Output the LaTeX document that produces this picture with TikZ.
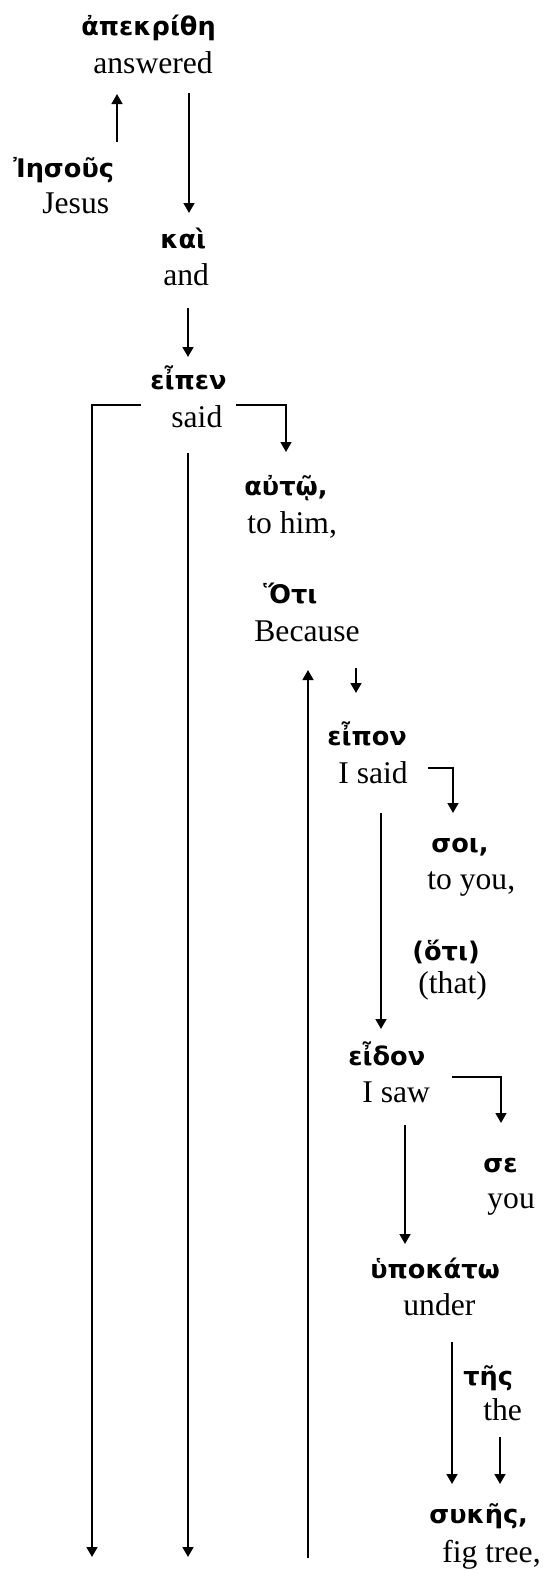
\documentclass[tikz,border=0pt]{standalone}
\usepackage{fontspec}
\setmainfont{Liberation Serif}
\newfontfamily\grk{DejaVu Sans}
\usepackage{tikz}
\usetikzlibrary{arrows.meta,calc}
\tikzset{
  gr/.style={inner sep=0pt, anchor=base west, font=\grk\bfseries\fontsize{12.8}{15}\selectfont},
  en/.style={inner sep=0pt, anchor=base west, font=\fontsize{15.8}{18}\selectfont},
  arr/.style={->, line width=1pt},
}

\begin{document}
\begin{tikzpicture}[x=0.5pt, y=-0.5pt, >={Triangle[length=5pt,width=5.4pt]}]
    \useasboundingbox (0, 0) rectangle (543, 1570);
    % words, greek line over english line
    \node[gr] (apekrithe) at (81, 35) {ἀπεκρίθη};
    \node[en] (answered) at (93, 73) {answered};
    \node[gr] (iesous) at (13, 177) {Ἰησοῦς};
    \node[en] (jesus) at (42, 213) {Jesus};
    \node[gr] (kai) at (160, 248) {καὶ};
    \node[en] (and) at (163, 285) {and};
    \node[gr] (eipen) at (150, 389) {εἶπεν};
    \node[en] (said) at (171, 427) {said};
    \node[gr] (auto) at (244, 495) {αὐτῷ,};
    \node[en] (tohim) at (247, 533) {to him,};
    \node[gr] (hoti) at (263, 603) {Ὅτι};
    \node[en] (because) at (254, 641) {Because};
    \node[gr] (eipon) at (327, 745) {εἶπον};
    \node[en] (isaid) at (338, 783) {I said};
    \node[gr] (soi) at (431, 852) {σοι,};
    \node[en] (toyou) at (427, 889) {to you,};
    \node[gr] (hotib) at (412, 960) {(ὅτι)};
    \node[en] (that) at (418, 993) {(that)};
    \node[gr] (eidon) at (348, 1065) {εἶδον};
    \node[en] (isaw) at (362, 1102) {I saw};
    \node[gr] (se) at (483, 1172) {σε};
    \node[en] (you) at (487, 1208) {you};
    \node[gr] (hypokato) at (370, 1278) {ὑποκάτω};
    \node[en] (under) at (403, 1315) {under};
    \node[gr] (tes) at (463, 1385) {τῆς};
    \node[en] (the) at (483, 1420) {the};
    \node[gr] (sykes) at (429, 1523) {συκῆς,};
    \node[en] (figtree) at (442, 1562) {fig tree,};
    \coordinate (saidend) at (92, 1557);
    \coordinate (saidend2) at (188, 1557);
    \coordinate (becstart) at (308, 1558);
    % arrows
    \draw[arr] ($(iesous.base -| 117,0)+(0,-35)$) -- ($(answered.base -| 117,0)+(0,21)$);
    \draw[arr] ($(answered.base -| 189,0)+(0,20)$) -- ($(kai.base -| 189,0)+(0,-35)$);
    \draw[arr] ($(and.base -| 188,0)+(0,23)$) -- ($(eipen.base -| 188,0)+(0,-32)$);
    \draw[arr] ($(said.base -| 141,0)+(0,-22)$) -| (saidend);
    \draw[arr] ($(said.base -| 236,0)+(0,-22)$) -| ($(auto.base -| 286,0)+(0,-43)$);
    \draw[arr] ($(said.base -| 188,0)+(0,26)$) -- (saidend2);
    \draw[arr] (becstart) -- ($(because.base -| 308,0)+(0,29)$);
    \draw[arr] ($(because.base -| 356,0)+(0,27)$) -- ($(eipon.base -| 356,0)+(0,-52)$);
    \draw[arr] ($(isaid.base -| 428,0)+(0,-15)$) -| ($(soi.base -| 453,0)+(0,-39)$);
    \draw[arr] ($(isaid.base -| 381,0)+(0,30)$) -- ($(eidon.base -| 381,0)+(0,-36)$);
    \draw[arr] ($(isaw.base -| 452,0)+(0,-25)$) -| ($(se.base -| 501,0)+(0,-49)$);
    \draw[arr] ($(isaw.base -| 405,0)+(0,23)$) -- ($(hypokato.base -| 405,0)+(0,-34)$);
    \draw[arr] ($(under.base -| 452,0)+(0,27)$) -- ($(sykes.base -| 452,0)+(0,-39)$);
    \draw[arr] ($(the.base -| 500,0)+(0,17)$) -- ($(sykes.base -| 500,0)+(0,-39)$);
\end{tikzpicture}
\end{document}
